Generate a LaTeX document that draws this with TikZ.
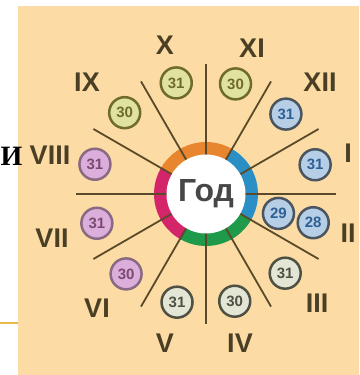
\documentclass[tikz,border=0pt]{standalone}
\usepackage{fontspec}
\setmainfont{Liberation Sans}
\newfontfamily\serifcyr{Liberation Serif}
\definecolor{bgbeige}{HTML}{FCDCA4}
\definecolor{edgeline}{HTML}{E8B84A}
\definecolor{spokecol}{HTML}{5A4A2A}
\definecolor{romancol}{HTML}{4A3F25}
\definecolor{ringor}{HTML}{E8852F}
\definecolor{ringbl}{HTML}{2A8FC4}
\definecolor{ringgr}{HTML}{1F9A4A}
\definecolor{ringmg}{HTML}{D4246A}
\definecolor{autfill}{HTML}{E0E3A0}
\definecolor{autdraw}{HTML}{6F6A2E}
\definecolor{winfill}{HTML}{B6CFE6}
\definecolor{windraw}{HTML}{4A5560}
\definecolor{wintext}{HTML}{2E5F95}
\definecolor{sprfill}{HTML}{E3E6D5}
\definecolor{sprdraw}{HTML}{4E5044}
\definecolor{sumfill}{HTML}{DCAEDB}
\definecolor{sumdraw}{HTML}{8A6A82}
\definecolor{sumtext}{HTML}{7A4A70}
\tikzset{
  spoke/.style={draw=spokecol, line width=1.8pt},
  roman/.style={font=\bfseries\fontsize{27}{27}\selectfont, text=romancol, inner sep=0pt},
  daybox/.style={circle, minimum size=31pt, inner sep=0pt, line width=2.5pt,
     font=\bfseries\fontsize{15}{15}\selectfont},
  aut/.style={daybox, fill=autfill, draw=autdraw, text=autdraw},
  win/.style={daybox, fill=winfill, draw=windraw, text=wintext},
  spr/.style={daybox, fill=sprfill, draw=sprdraw, text=sprdraw},
  sum/.style={daybox, fill=sumfill, draw=sumdraw, text=sumtext},
}
\begin{document}
\begin{tikzpicture}
\useasboundingbox (0,0) rectangle (359pt,375pt);
\fill[white] (0,0) rectangle (359pt,375pt);
\fill[bgbeige] (18pt,0) rectangle (359pt,369pt);
\coordinate (la) at (0,52pt);
\coordinate (lb) at (18pt,52pt);
\draw[edgeline, line width=2pt] (la) -- (lb);
\node[inner sep=0pt] (cyr) at (11.5pt,219pt) {\serifcyr\bfseries\fontsize{28}{28}\selectfont И};
\begin{scope}[shift={(206pt,181pt)}]
  \fill[ringor] (60:52pt) arc[start angle=60,end angle=150,radius=52pt] -- (150:39pt) arc[start angle=150,end angle=60,radius=39pt] -- cycle;
  \fill[ringbl] (-30:52pt) arc[start angle=-30,end angle=60,radius=52pt] -- (60:39pt) arc[start angle=60,end angle=-30,radius=39pt] -- cycle;
  \fill[ringgr] (-120:52pt) arc[start angle=-120,end angle=-30,radius=52pt] -- (-30:39pt) arc[start angle=-30,end angle=-120,radius=39pt] -- cycle;
  \fill[ringmg] (150:52pt) arc[start angle=150,end angle=240,radius=52pt] -- (240:39pt) arc[start angle=240,end angle=150,radius=39pt] -- cycle;
  \foreach \a in {0,30,...,330} {
    \coordinate (s\a) at (\a:38pt);
    \coordinate (e\a) at (\a:130pt);
    \draw[spoke] (s\a) -- (e\a);
  }
  \node[circle, fill=white, minimum size=79pt, inner sep=0pt, text=black!72,
        font=\bfseries\fontsize{32}{32}\selectfont] (god) at (0,0) {Год};
  \node[win] (d1) at (15:113pt) {31};
  \node[win] (d2b) at (-15:75pt) {29};
  \node[win] (d2) at (-15:111pt) {28};
  \node[spr] (d3) at (-45:112pt) {31};
  \node[spr] (d4) at (-75:111pt) {30};
  \node[spr] (d5) at (-105:112pt) {31};
  \node[sum] (d6) at (-135:113pt) {30};
  \node[sum] (d7) at (-165:113pt) {31};
  \node[sum] (d8) at (165:115pt) {31};
  \node[aut] (d9) at (135:115pt) {30};
  \node[aut] (d10) at (105:115pt) {31};
  \node[aut] (d11) at (75:114pt) {30};
  \node[win] (d12) at (45:113pt) {31};
\end{scope}
\node[roman] (mX) at (165pt,330pt) {X};
\node[roman] (mXI) at (252pt,327pt) {XI};
\node[roman] (mXII) at (320pt,293pt) {XII};
\node[roman] (mI) at (348pt,222pt) {I};
\node[roman] (mII) at (348pt,142pt) {II};
\node[roman] (mIII) at (317pt,72pt) {III};
\node[roman] (mIV) at (240pt,32pt) {IV};
\node[roman] (mV) at (165pt,32pt) {V};
\node[roman] (mVI) at (97pt,67pt) {VI};
\node[roman] (mVII) at (52pt,137pt) {VII};
\node[roman] (mVIII) at (50pt,220pt) {VIII};
\node[roman] (mIX) at (87pt,293pt) {IX};
\end{tikzpicture}
\end{document}
